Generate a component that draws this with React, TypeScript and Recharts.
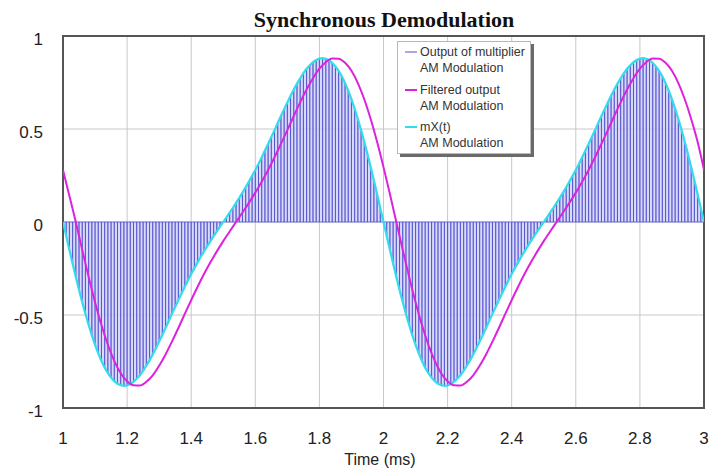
import React from 'react';
import {
  ComposedChart,
  Line,
  Area,
  XAxis,
  YAxis,
  CartesianGrid,
  ReferenceArea,
  Legend,
} from 'recharts';

// ---- data ----
const START_MS = 1;
const MX_STEP_MS = 0.01; // carrier sampling: one multiplier stroke per sample
const FILTER_STEP_MS = 0.02;

// mX(t) sampled every 0.01 ms from 1.00 to 3.00 ms
const MX_VALUES: number[] = [
  0, -0.075, -0.15, -0.224, -0.295, -0.365, -0.431, -0.495, -0.554, -0.61,
  -0.66, -0.706, -0.747, -0.783, -0.813, -0.837, -0.856, -0.87, -0.878, -0.881,
  -0.879, -0.871, -0.859, -0.843, -0.824, -0.8, -0.773, -0.744, -0.712, -0.679,
  -0.643, -0.607, -0.57, -0.532, -0.494, -0.457, -0.42, -0.384, -0.348, -0.313,
  -0.28, -0.248, -0.217, -0.187, -0.158, -0.13, -0.103, -0.076, -0.051, -0.025,
  0, 0.025, 0.051, 0.076, 0.103, 0.13, 0.158, 0.187, 0.217, 0.248,
  0.28, 0.313, 0.348, 0.384, 0.42, 0.457, 0.494, 0.532, 0.57, 0.607,
  0.643, 0.679, 0.712, 0.744, 0.773, 0.8, 0.824, 0.843, 0.859, 0.871,
  0.879, 0.881, 0.878, 0.87, 0.856, 0.837, 0.813, 0.783, 0.747, 0.706,
  0.66, 0.61, 0.554, 0.495, 0.431, 0.365, 0.295, 0.224, 0.15, 0.075,
  0, -0.075, -0.15, -0.224, -0.295, -0.365, -0.431, -0.495, -0.554, -0.61,
  -0.66, -0.706, -0.747, -0.783, -0.813, -0.837, -0.856, -0.87, -0.878, -0.881,
  -0.879, -0.871, -0.859, -0.843, -0.824, -0.8, -0.773, -0.744, -0.712, -0.679,
  -0.643, -0.607, -0.57, -0.532, -0.494, -0.457, -0.42, -0.384, -0.348, -0.313,
  -0.28, -0.248, -0.217, -0.187, -0.158, -0.13, -0.103, -0.076, -0.051, -0.025,
  0, 0.025, 0.051, 0.076, 0.103, 0.13, 0.158, 0.187, 0.217, 0.248,
  0.28, 0.313, 0.348, 0.384, 0.42, 0.457, 0.494, 0.532, 0.57, 0.607,
  0.643, 0.679, 0.712, 0.744, 0.773, 0.8, 0.824, 0.843, 0.859, 0.871,
  0.879, 0.881, 0.878, 0.87, 0.856, 0.837, 0.813, 0.783, 0.747, 0.706,
  0.66, 0.61, 0.554, 0.495, 0.431, 0.365, 0.295, 0.224, 0.15, 0.075,
  0,
];

// Filtered output sampled every 0.02 ms from 1.00 to 3.00 ms
const FILTERED_VALUES: number[] = [
  0.28, 0.14, 0, -0.15, -0.295, -0.431, -0.554, -0.66, -0.747, -0.813,
  -0.856, -0.878, -0.879, -0.859, -0.824, -0.773, -0.712, -0.643, -0.57, -0.494,
  -0.42, -0.348, -0.28, -0.217, -0.158, -0.103, -0.051, 0, 0.051, 0.103,
  0.158, 0.217, 0.28, 0.348, 0.42, 0.494, 0.57, 0.643, 0.712, 0.773,
  0.824, 0.859, 0.879, 0.878, 0.856, 0.813, 0.747, 0.66, 0.554, 0.431,
  0.295, 0.15, 0, -0.15, -0.295, -0.431, -0.554, -0.66, -0.747, -0.813,
  -0.856, -0.878, -0.879, -0.859, -0.824, -0.773, -0.712, -0.643, -0.57, -0.494,
  -0.42, -0.348, -0.28, -0.217, -0.158, -0.103, -0.051, 0, 0.051, 0.103,
  0.158, 0.217, 0.28, 0.348, 0.42, 0.494, 0.57, 0.643, 0.712, 0.773,
  0.824, 0.859, 0.879, 0.878, 0.856, 0.813, 0.747, 0.66, 0.554, 0.431,
  0.28,
];

const X_TICKS = [1, 1.2, 1.4, 1.6, 1.8, 2, 2.2, 2.4, 2.6, 2.8, 3];
const Y_TICKS = [-1, -0.5, 0, 0.5, 1];

const TITLE = 'Synchronous Demodulation';
const X_LABEL = 'Time (ms)';

const LEGEND_ITEMS = [
  { name: 'Output of multiplier', sub: 'AM Modulation', color: '#a8a8e8' },
  { name: 'Filtered output', sub: 'AM Modulation', color: '#dd22dd' },
  { name: 'mX(t)', sub: 'AM Modulation', color: '#33dcec' },
];

// ---- tables built from the arrays ----
const mxData = MX_VALUES.map((v, i) => ({ t: START_MS + i * MX_STEP_MS, v }));
const filteredData = FILTERED_VALUES.map((v, i) => ({
  t: START_MS + i * FILTER_STEP_MS,
  v,
}));
const multiplierData: { t: number; v: number }[] = [];
mxData.forEach((p) => {
  multiplierData.push({ t: p.t, v: 0 });
  multiplierData.push({ t: p.t, v: p.v });
  multiplierData.push({ t: p.t, v: 0 });
});

const SANS = '"Liberation Sans", Arial, sans-serif';

const YTick = (props: any) => {
  const { y, payload } = props;
  return (
    <text x={43} y={y + 8.5} textAnchor="end" fontSize={17} fontFamily={SANS} fill="#222">
      {String(payload.value)}
    </text>
  );
};

const XTick = (props: any) => {
  const { x, payload } = props;
  return (
    <text x={x} y={443.5} textAnchor="middle" fontSize={17} fontFamily={SANS} fill="#222">
      {String(payload.value)}
    </text>
  );
};

const LegendBox = () => {
  const rowTops = [0, 38, 75];
  return (
    <div
      style={{
        position: 'relative',
        width: 132,
        height: 111,
        background: '#fff',
        border: '1px solid #b8b8b8',
        boxShadow: '3px 3px 0 #6a6a6a',
        fontFamily: SANS,
        fontSize: 12.5,
        color: '#333',
      }}
    >
      {LEGEND_ITEMS.map((it, i) => (
        <React.Fragment key={it.name}>
          <div
            style={{
              position: 'absolute',
              left: 7,
              top: rowTops[i] + 8.5,
              width: 12,
              height: 2,
              background: it.color,
            }}
          />
          <div
            style={{
              position: 'absolute',
              left: 22,
              top: rowTops[i] + 3,
              lineHeight: '14px',
              whiteSpace: 'nowrap',
            }}
          >
            {it.name}
          </div>
          <div
            style={{
              position: 'absolute',
              left: 22,
              top: rowTops[i] + 18.5,
              lineHeight: '14px',
              whiteSpace: 'nowrap',
            }}
          >
            {it.sub}
          </div>
        </React.Fragment>
      ))}
    </div>
  );
};

export default function App() {
  return (
    <div
      style={{
        position: 'absolute',
        left: 0,
        top: 0,
        width: 710,
        height: 473,
        background: '#fff',
        overflow: 'hidden',
      }}
    >
      <ComposedChart width={710} height={473} margin={{ top: 36, right: 6, bottom: 35, left: 8 }}>
        <CartesianGrid stroke="#c8c8c8" strokeWidth={1} />
        <XAxis
          dataKey="t"
          type="number"
          domain={[1, 3]}
          ticks={X_TICKS}
          allowDataOverflow
          height={30}
          tickLine={false}
          axisLine={false}
          tick={XTick}
          interval={0}
        />
        <YAxis
          type="number"
          domain={[-1, 1]}
          ticks={Y_TICKS}
          allowDataOverflow
          width={55}
          tickLine={false}
          axisLine={false}
          tick={YTick}
          interval={0}
        />
        <Area
          data={mxData}
          dataKey="v"
          type="linear"
          baseValue={0}
          stroke="none"
          fill="#cfcff7"
          fillOpacity={0.8}
          isAnimationActive={false}
          dot={false}
          activeDot={false}
          legendType="none"
        />
        <Line
          data={multiplierData}
          dataKey="v"
          type="linear"
          stroke="#4646cc"
          strokeWidth={0.9}
          strokeOpacity={0.75}
          dot={false}
          activeDot={false}
          isAnimationActive={false}
          name="Output of multiplier"
        />
        <Line
          data={mxData}
          dataKey="v"
          type="linear"
          stroke="#33dcec"
          strokeWidth={2.2}
          dot={false}
          activeDot={false}
          isAnimationActive={false}
          name="mX(t)"
        />
        <Line
          data={filteredData}
          dataKey="v"
          type="monotone"
          stroke="#dd22dd"
          strokeWidth={2}
          dot={false}
          activeDot={false}
          isAnimationActive={false}
          name="Filtered output"
        />
        <ReferenceArea
          x1={1}
          x2={3}
          y1={-1}
          y2={1}
          fill="none"
          fillOpacity={0}
          stroke="#555"
          strokeWidth={2}
          ifOverflow="visible"
        />
        <Legend
          layout="horizontal"
          verticalAlign="middle"
          align="center"
          content={() => <LegendBox />}
          wrapperStyle={{ left: 397, top: 41, width: 134, height: 113 }}
        />
      </ComposedChart>
      <svg
        width={710}
        height={473}
        style={{ position: 'absolute', left: 0, top: 0, pointerEvents: 'none' }}
      >
        <text
          x={384}
          y={27}
          textAnchor="middle"
          fontFamily='"Liberation Serif", "Times New Roman", serif'
          fontWeight="bold"
          fontSize={22}
          fill="#111"
        >
          {TITLE}
        </text>
        <text x={380} y={464.5} textAnchor="middle" fontFamily={SANS} fontSize={16} fill="#222">
          {X_LABEL}
        </text>
      </svg>
    </div>
  );
}
